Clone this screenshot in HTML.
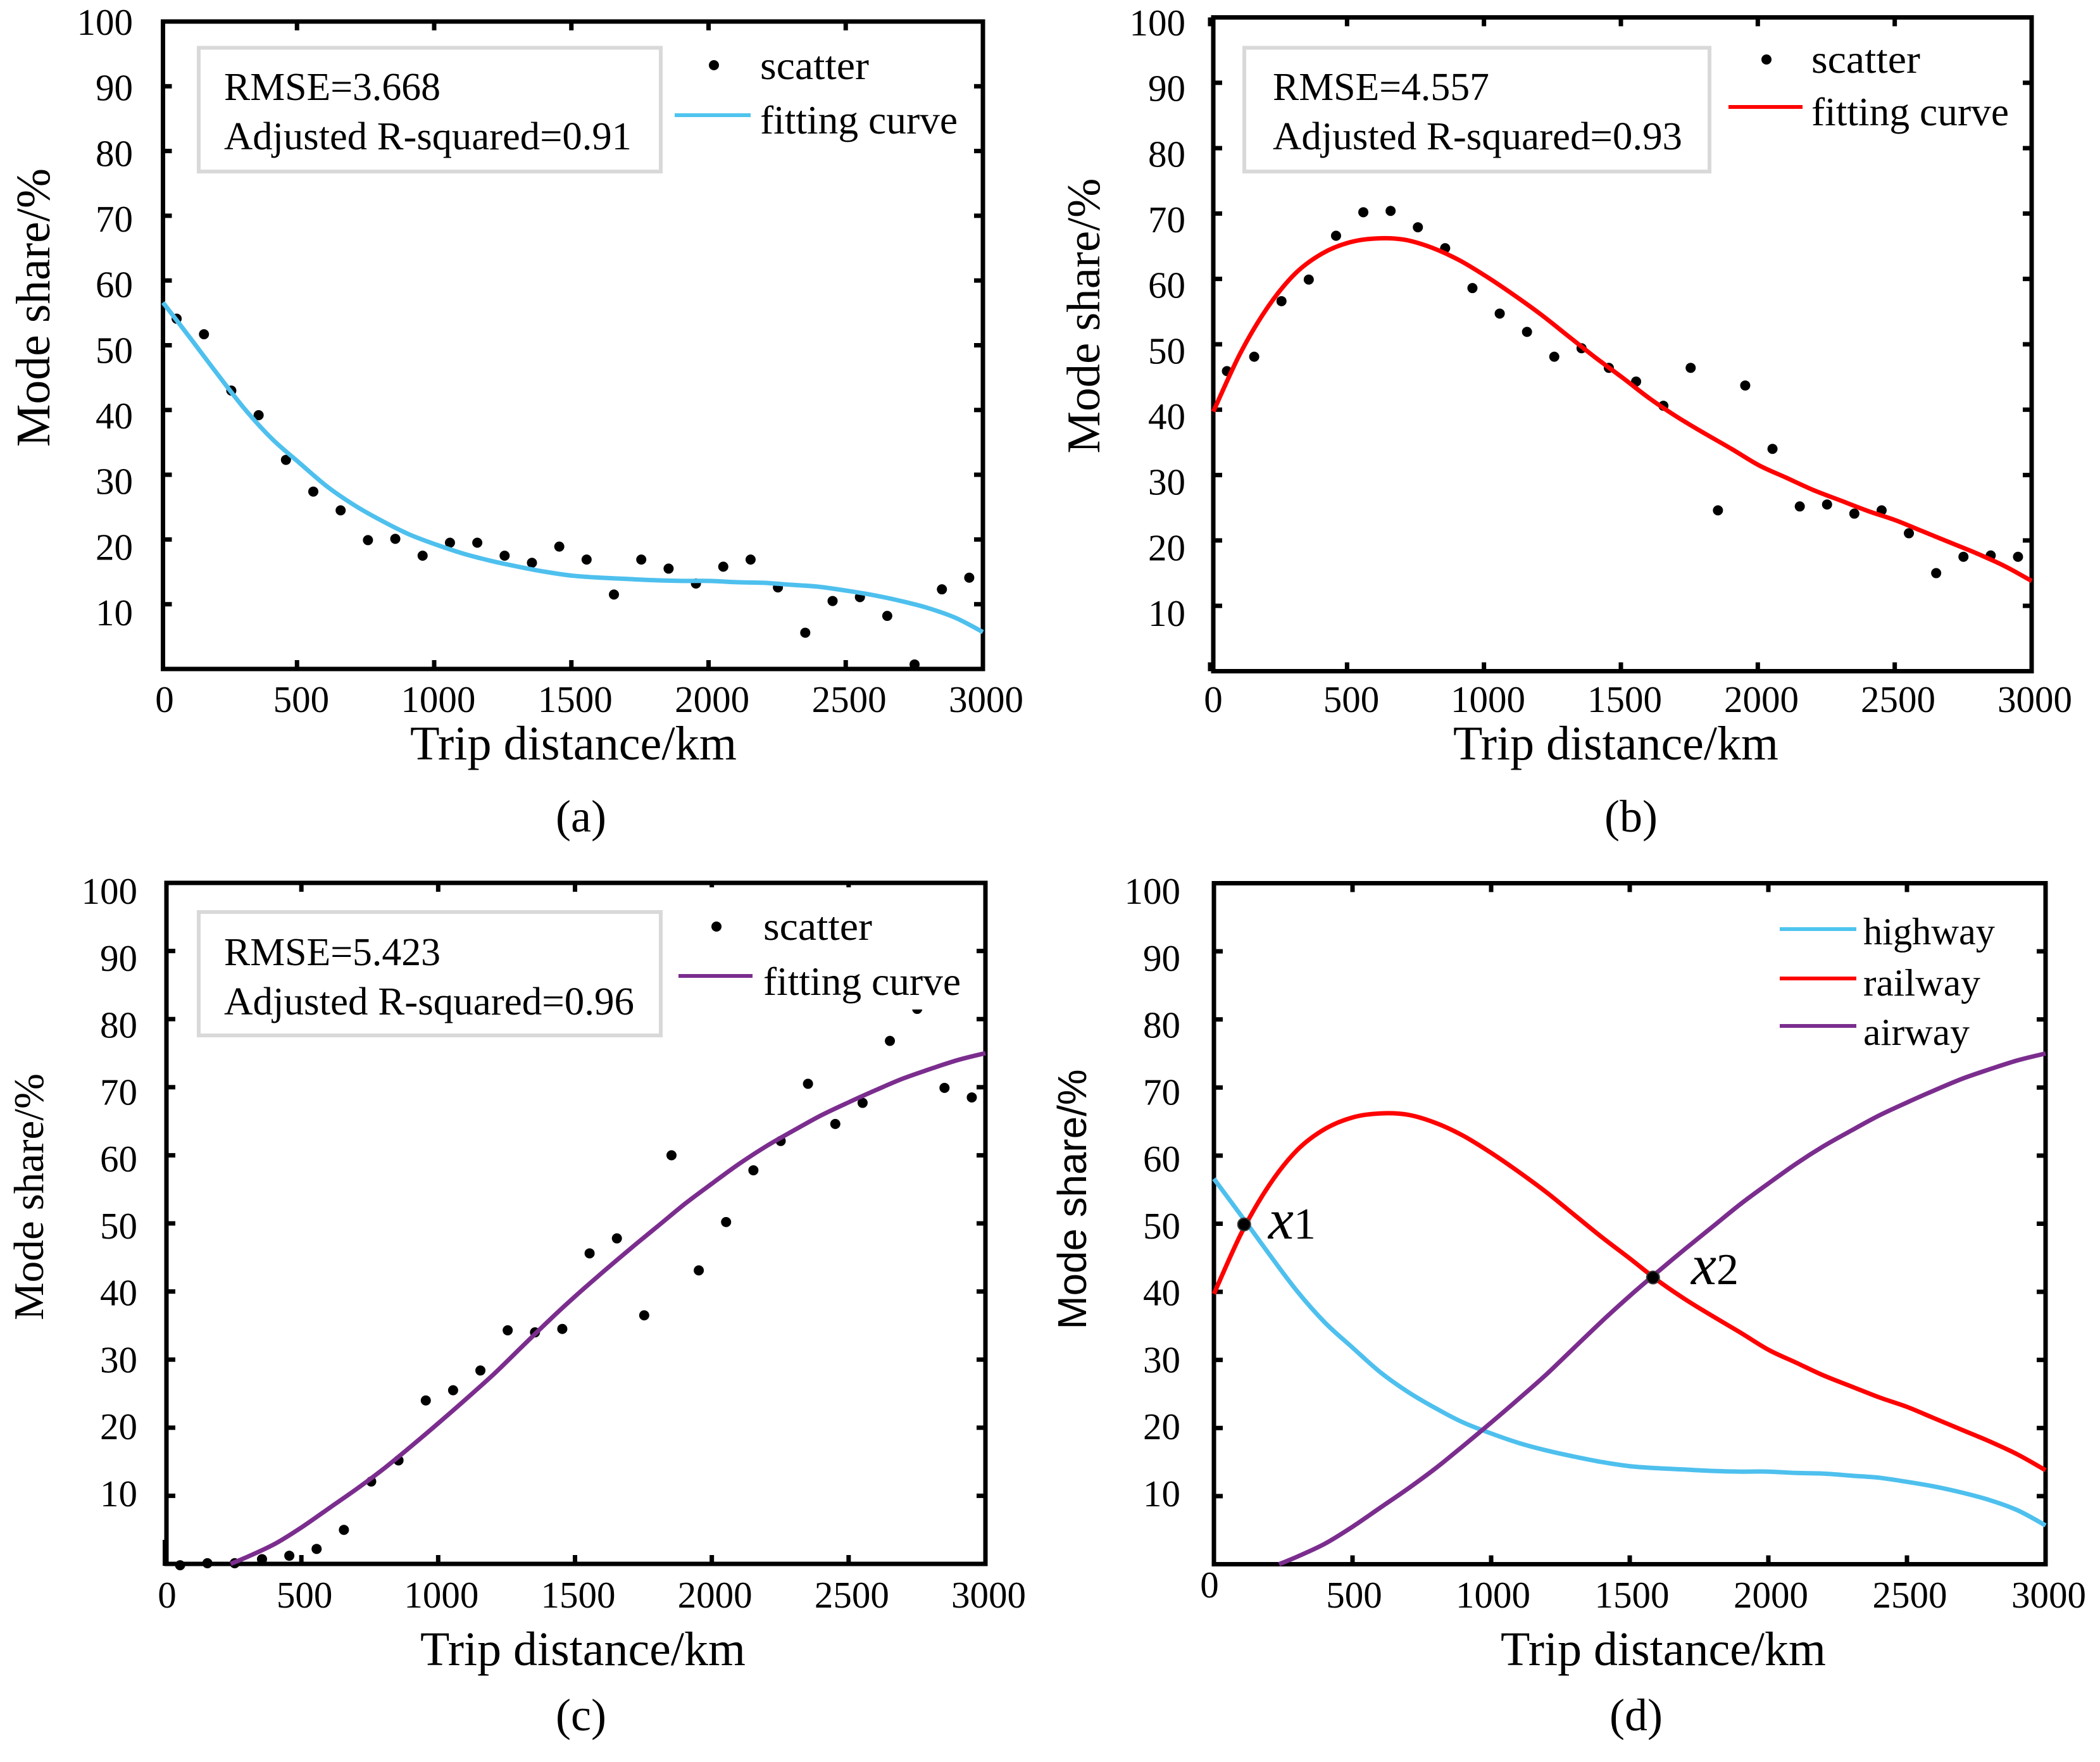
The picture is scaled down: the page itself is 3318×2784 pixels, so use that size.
<!DOCTYPE html>
<html lang="en">
<head>
<meta charset="utf-8">
<title>Mode share versus trip distance</title>
<style>
html,body{margin:0;padding:0;background:#fff;}
svg{display:block;}
text{font-family:"Liberation Serif",serif;fill:#000;}
</style>
</head>
<body>
<svg id="figure" xmlns="http://www.w3.org/2000/svg" width="3318" height="2784" viewBox="0 0 3318 2784">
  <rect width="3318" height="2784" fill="#fff"/>

  <g>
    <g id="axes-a"></g>
    <g id="marks-a"></g>
    <g>
      <rect x="314" y="75.5" width="730" height="195.5" fill="#fff" stroke="#d9d9d9" stroke-width="6"/>
      <text x="354" y="158" font-size="62" textLength="342" lengthAdjust="spacingAndGlyphs">RMSE=3.668</text>
      <text x="354" y="236" font-size="62" textLength="644" lengthAdjust="spacingAndGlyphs">Adjusted R-squared=0.91</text>
    </g>
    <g>
      <circle cx="1128" cy="103" r="8" fill="#000"/>
      <text x="1201" y="125" font-size="64" textLength="172" lengthAdjust="spacingAndGlyphs">scatter</text>
      <line x1="1066" x2="1186" y1="182" y2="182" stroke="#4ec4ee" stroke-width="6"/>
      <text x="1201" y="211" font-size="64" textLength="312" lengthAdjust="spacingAndGlyphs">fitting curve</text>
    </g>
    <text x="648" y="1200" font-size="76" textLength="516" lengthAdjust="spacingAndGlyphs">Trip distance/km</text>
    <text transform="translate(78,486) rotate(-90)" text-anchor="middle" font-size="76" textLength="440" lengthAdjust="spacingAndGlyphs">Mode share/%</text>
    <text x="918" y="1314" text-anchor="middle" font-size="72">(a)</text>
  </g>

  <g>
    <g id="axes-b"></g>
    <g id="marks-b"></g>
    <g>
      <rect x="1966" y="75.5" width="735" height="195.5" fill="#fff" stroke="#d9d9d9" stroke-width="6"/>
      <text x="2011" y="158" font-size="62" textLength="342" lengthAdjust="spacingAndGlyphs">RMSE=4.557</text>
      <text x="2011" y="236" font-size="62" textLength="647" lengthAdjust="spacingAndGlyphs">Adjusted R-squared=0.93</text>
    </g>
    <g>
      <circle cx="2791" cy="94" r="8" fill="#000"/>
      <text x="2862" y="115" font-size="64" textLength="172" lengthAdjust="spacingAndGlyphs">scatter</text>
      <line x1="2731" x2="2848" y1="169" y2="169" stroke="#ff0000" stroke-width="6"/>
      <text x="2862" y="198" font-size="64" textLength="312" lengthAdjust="spacingAndGlyphs">fitting curve</text>
    </g>
    <text x="2296" y="1200" font-size="76" textLength="514" lengthAdjust="spacingAndGlyphs">Trip distance/km</text>
    <text transform="translate(1737,499) rotate(-90)" text-anchor="middle" font-size="74" textLength="435" lengthAdjust="spacingAndGlyphs">Mode share/%</text>
    <text x="2577" y="1314" text-anchor="middle" font-size="72">(b)</text>
  </g>

  <g>
    <g id="axes-c"></g>
    <line x1="260" x2="260" y1="2433" y2="2474" stroke="#000" stroke-width="6"/>
    <g id="marks-c"></g>
    <g>
      <rect x="314" y="1441" width="730" height="195" fill="#fff" stroke="#d9d9d9" stroke-width="6"/>
      <text x="354" y="1525" font-size="62" textLength="342" lengthAdjust="spacingAndGlyphs">RMSE=5.423</text>
      <text x="354" y="1603" font-size="62" textLength="648" lengthAdjust="spacingAndGlyphs">Adjusted R-squared=0.96</text>
    </g>
    <g>
      <rect x="1060" y="1402" width="470" height="193" fill="#fff"/>
      <circle cx="1132" cy="1464" r="8" fill="#000"/>
      <text x="1206" y="1485" font-size="64" textLength="172" lengthAdjust="spacingAndGlyphs">scatter</text>
      <line x1="1072" x2="1189" y1="1542" y2="1542" stroke="#7b2d8e" stroke-width="6"/>
      <text x="1206" y="1572" font-size="64" textLength="312" lengthAdjust="spacingAndGlyphs">fitting curve</text>
    </g>
    <text x="664" y="2631" font-size="76" textLength="514" lengthAdjust="spacingAndGlyphs">Trip distance/km</text>
    <text transform="translate(68,1891) rotate(-90)" text-anchor="middle" font-size="67" textLength="390" lengthAdjust="spacingAndGlyphs">Mode share/%</text>
    <text x="918" y="2734" text-anchor="middle" font-size="72">(c)</text>
  </g>

  <g>
    <g id="axes-d"></g>
    <g id="marks-d"></g>
    <g>
      <line x1="2812" x2="2933" y1="1468" y2="1468" stroke="#4ec4ee" stroke-width="6"/>
      <text x="2944" y="1492" font-size="60" textLength="208" lengthAdjust="spacingAndGlyphs">highway</text>
      <line x1="2812" x2="2933" y1="1546" y2="1546" stroke="#ff0000" stroke-width="6"/>
      <text x="2944" y="1573" font-size="60" textLength="185" lengthAdjust="spacingAndGlyphs">railway</text>
      <line x1="2812" x2="2933" y1="1621" y2="1621" stroke="#7b2d8e" stroke-width="6"/>
      <text x="2944" y="1651" font-size="60" textLength="168" lengthAdjust="spacingAndGlyphs">airway</text>
    </g>
    <text x="2004" y="1957"><tspan font-style="italic" font-size="90">x</tspan><tspan font-size="70">1</tspan></text>
    <text x="2672" y="2029"><tspan font-style="italic" font-size="90">x</tspan><tspan font-size="70">2</tspan></text>
    <text x="2371" y="2631" font-size="76" textLength="514" lengthAdjust="spacingAndGlyphs">Trip distance/km</text>
    <text transform="translate(1716,1895) rotate(-90)" text-anchor="middle" font-size="64" textLength="411" lengthAdjust="spacingAndGlyphs" style="font-family:'Liberation Sans',sans-serif">Mode share/%</text>
    <text x="2585" y="2734" text-anchor="middle" font-size="72">(d)</text>
  </g>
</svg>

<script>
// Data
const xTickValues = [0, 500, 1000, 1500, 2000, 2500, 3000];
const yTickValues = [0, 10, 20, 30, 40, 50, 60, 70, 80, 90, 100];
const yTickLabels = [10, 20, 30, 40, 50, 60, 70, 80, 90, 100];

const scatterDistances = [50, 150, 250, 350, 450, 550, 650, 750, 850, 950, 1050, 1150, 1250, 1350, 1450, 1550, 1650, 1750, 1850, 1950, 2050, 2150, 2250, 2350, 2450, 2550, 2650, 2750, 2850, 2950];
const highwayScatter = [54.1, 51.7, 43.0, 39.2, 32.3, 27.4, 24.5, 19.9, 20.1, 17.5, 19.5, 19.5, 17.5, 16.4, 18.9, 16.9, 11.5, 16.9, 15.5, 13.2, 15.8, 16.9, 12.6, 5.6, 10.5, 11.1, 8.2, 0.7, 12.3, 14.1];
const railwayScatter = [45.9, 48.1, 56.6, 59.9, 66.6, 70.2, 70.4, 67.9, 64.7, 58.6, 54.7, 51.9, 48.1, 49.4, 46.4, 44.3, 40.6, 46.4, 24.6, 43.7, 34.0, 25.2, 25.5, 24.1, 24.6, 21.1, 15.0, 17.5, 17.7, 17.5];
const airwayScatter = [-0.2, 0.1, 0.1, 0.7, 1.2, 2.2, 5.0, 12.1, 15.2, 24.0, 25.5, 28.4, 34.3, 34.0, 34.5, 45.6, 47.8, 36.5, 60.0, 43.1, 50.2, 57.8, 62.1, 70.5, 64.6, 67.7, 76.8, 81.5, 69.9, 68.5];

const curveDistances = [0, 100, 200, 300, 400, 500, 600, 700, 800, 900, 1000, 1100, 1200, 1300, 1400, 1500, 1600, 1700, 1800, 1900, 2000, 2100, 2200, 2300, 2400, 2500, 2600, 2700, 2800, 2900, 3000];
const highwayCurve = [56.6, 51.1, 45.5, 40.1, 35.5, 31.8, 28.2, 25.3, 22.9, 20.8, 19.2, 17.8, 16.7, 15.8, 15.0, 14.4, 14.1, 13.9, 13.7, 13.6, 13.6, 13.4, 13.3, 13.0, 12.7, 12.1, 11.4, 10.5, 9.4, 7.9, 5.7];
const railwayCurve = [39.7, 48.7, 55.7, 60.8, 63.9, 65.6, 66.2, 66.0, 64.8, 62.9, 60.4, 57.6, 54.6, 51.3, 48.0, 44.9, 41.7, 38.9, 36.4, 34.0, 31.5, 29.6, 27.7, 26.1, 24.5, 23.1, 21.4, 19.7, 18.0, 16.1, 13.8];
const airwayDistances = [235, 300, 400, 500, 600, 700, 800, 900, 1000, 1100, 1200, 1300, 1400, 1500, 1600, 1700, 1800, 1900, 2000, 2100, 2200, 2300, 2400, 2500, 2600, 2700, 2800, 2900, 3000];
const airwayCurve = [0, 1.1, 3.0, 5.5, 8.3, 11.1, 14.1, 17.4, 20.8, 24.3, 27.9, 31.8, 35.7, 39.4, 42.9, 46.3, 49.6, 52.9, 55.9, 58.8, 61.4, 63.7, 65.9, 67.8, 69.6, 71.3, 72.7, 74.0, 75.0];

const intersectionDistances = [109, 1584];
const intersectionShares = [49.9, 42.1];

const xMax = 3000;
const yMax = 100;
const COLORS = { highway: '#4ec0ee', railway: '#ff0000', airway: '#7b2d8e' };
const NS = 'http://www.w3.org/2000/svg';

function mk(tag, attrs, parent) {
  const el = document.createElementNS(NS, tag);
  for (const k in attrs) el.setAttribute(k, attrs[k]);
  parent.appendChild(el);
  return el;
}

function smoothPath(points) {
  let d = 'M' + points[0][0].toFixed(1) + ' ' + points[0][1].toFixed(1);
  for (let i = 0; i < points.length - 1; i++) {
    const p0 = points[Math.max(0, i - 1)];
    const p1 = points[i];
    const p2 = points[i + 1];
    const p3 = points[Math.min(points.length - 1, i + 2)];
    const c1x = p1[0] + (p2[0] - p0[0]) / 6;
    const c1y = p1[1] + (p2[1] - p0[1]) / 6;
    const c2x = p2[0] - (p3[0] - p1[0]) / 6;
    const c2y = p2[1] - (p3[1] - p1[1]) / 6;
    d += 'C' + c1x.toFixed(1) + ' ' + c1y.toFixed(1) + ' ' + c2x.toFixed(1) + ' ' + c2y.toFixed(1) + ' ' + p2[0].toFixed(1) + ' ' + p2[1].toFixed(1);
  }
  return d;
}

function drawAxes(id, box) {
  const g = document.getElementById('axes-' + id);
  const xAxis = v => box.L + (box.R - box.L) * v / xMax;
  const yAxis = v => box.B - (box.B - box.T) * v / yMax;
  const tickX = v => (v === 0 && box.noZeroSkew) ? xAxis(0) : xAxis(v) - box.tickSkew * (xMax - v) / xMax;

  const frame = mk('rect', { x: box.L, y: box.T, width: box.R - box.L, height: box.B - box.T, fill: 'none', stroke: '#000', 'stroke-width': 7 }, g);
  
  

  xTickValues.forEach(v => {
    const x = tickX(v);
    [[box.B, box.B - 14], [box.T, box.T + 14]].forEach(pair => {
      const t = mk('line', { x1: x, x2: x, y1: pair[0], y2: pair[1], stroke: '#000', 'stroke-width': 7 }, g);
      
      
    });
    const isZero = v === 0;
    const label = mk('text', {
      x: isZero ? box.zeroX : xAxis(v) + 2 + 3 * v / xMax,
      y: isZero ? box.zeroY : box.xLabelY,
      'text-anchor': 'middle',
      'font-size': 59
    }, g);
    
    
    label.textContent = v;
  });

  yTickValues.forEach(v => {
    const y = yAxis(v);
    [[box.L, box.L + 14], [box.R, box.R - 14]].forEach(pair => {
      const t = mk('line', { x1: pair[0], x2: pair[1], y1: y, y2: y, stroke: '#000', 'stroke-width': 7 }, g);
      
      
    });
  });

  yTickLabels.forEach(v => {
    const y = box.label100Y + (100 - v) / 90 * (box.label10Y - box.label100Y);
    const label = mk('text', { x: box.yLabelRight, y: y, 'text-anchor': 'end', 'font-size': 59 }, g);
    
    
    label.textContent = v;
  });
}

function drawScatter(id, box, distances, shares) {
  const g = document.getElementById('marks-' + id);
  const xAxis = v => box.L + (box.R - box.L) * v / xMax;
  const yAxis = v => box.B - (box.B - box.T) * v / yMax;
  distances.forEach((d, i) => {
    const c = mk('circle', { cx: xAxis(d), cy: yAxis(shares[i]), r: 8, fill: '#000' }, g);
    
    
  });
}

function drawIntersections(id, box, distances, shares) {
  const g = document.getElementById('marks-' + id);
  const xAxis = v => box.L + (box.R - box.L) * v / xMax;
  const yAxis = v => box.B - (box.B - box.T) * v / yMax;
  distances.forEach((d, i) => {
    const c = mk('circle', { cx: xAxis(d), cy: yAxis(shares[i]), r: 10, fill: '#000', stroke: '#3c3c3c', 'stroke-width': 2 }, g);
    
    
  });
}

function drawCurve(id, box, distances, shares, color, name) {
  const g = document.getElementById('marks-' + id);
  const xAxis = v => box.L + (box.R - box.L) * v / xMax;
  const yAxis = v => box.B - (box.B - box.T) * v / yMax;
  const pts = distances.map((d, i) => [xAxis(d), yAxis(shares[i])]);
  const p = mk('path', { d: smoothPath(pts), fill: 'none', stroke: color, 'stroke-width': 7, 'stroke-linejoin': 'round' }, g);
  
  
}

const boxA = { L: 257.5, R: 1553, T: 34, B: 1057, tickSkew: 5, noZeroSkew: true, zeroX: 260, zeroY: 1125, xLabelY: 1125, yLabelRight: 210, label100Y: 55, label10Y: 988 };
const boxB = { L: 1917, R: 3210, T: 27.5, B: 1060.5, tickSkew: 5, noZeroSkew: false, zeroX: 1917, zeroY: 1125, xLabelY: 1125, yLabelRight: 1873, label100Y: 56, label10Y: 989 };
const boxC = { L: 263, R: 1557, T: 1395, B: 2471, tickSkew: 3, noZeroSkew: true, zeroX: 264, zeroY: 2540, xLabelY: 2540, yLabelRight: 217, label100Y: 1428, label10Y: 2380 };
const boxD = { L: 1918, R: 3232, T: 1395.5, B: 2471.5, tickSkew: 0, noZeroSkew: true, zeroX: 1911, zeroY: 2524, xLabelY: 2540, yLabelRight: 1865, label100Y: 1428, label10Y: 2380 };

drawAxes('a', boxA);
drawScatter('a', boxA, scatterDistances, highwayScatter);
drawCurve('a', boxA, curveDistances, highwayCurve, COLORS.highway, 'highway-fitting-curve');

drawAxes('b', boxB);
drawScatter('b', boxB, scatterDistances, railwayScatter);
drawCurve('b', boxB, curveDistances, railwayCurve, COLORS.railway, 'railway-fitting-curve');

drawAxes('c', boxC);
drawScatter('c', boxC, scatterDistances, airwayScatter);
drawCurve('c', boxC, airwayDistances, airwayCurve, COLORS.airway, 'airway-fitting-curve');

drawAxes('d', boxD);
drawCurve('d', boxD, curveDistances, highwayCurve, COLORS.highway, 'highway-curve');
drawCurve('d', boxD, curveDistances, railwayCurve, COLORS.railway, 'railway-curve');
drawCurve('d', boxD, airwayDistances, airwayCurve, COLORS.airway, 'airway-curve');
drawIntersections('d', boxD, intersectionDistances, intersectionShares);
</script>
</body>
</html>
